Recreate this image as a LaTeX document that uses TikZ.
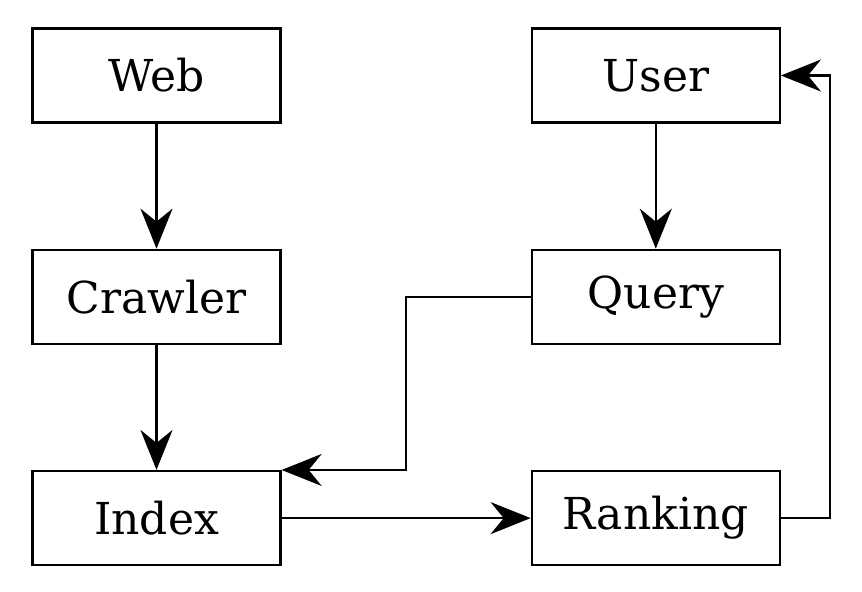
\documentclass[tikz,border=0pt]{standalone}
\usepackage{fontspec}
\setmainfont{DejaVu Serif}
\usetikzlibrary{arrows.meta,positioning}
\tikzset{
  stagebox/.style={rectangle, draw, line width=1.15pt, minimum width=124pt,
                   minimum height=47pt, inner sep=0pt,
                   font=\fontsize{22}{26}\selectfont},
  flow/.style={-{Stealth[length=20pt,width=16pt,inset=6.5pt]}, line width=1.15pt},
}
\begin{document}
\begin{tikzpicture}[node distance=62.5pt and 124.5pt]
  \useasboundingbox (0,0) rectangle (431pt,-295.5pt);
  % Crawling side
  \node[stagebox] (web) at (78.25pt,-37.75pt) {Web};
  \node[stagebox, below=of web] (crawler) {Crawler};
  \node[stagebox, below=of crawler] (index) {Index};
  % Search side
  \node[stagebox, right=of web] (user) {User};
  \node[stagebox, below=of user] (query) {Query};
  \node[stagebox, below=of query] (ranking) {Ranking};
  % Connectors
  \draw[flow] (web) -- (crawler);
  \draw[flow] (crawler) -- (index);
  \draw[flow] (user) -- (query);
  \draw[flow] (index) -- (ranking);
  \draw[flow] (query.west) -- ++(-62.5pt,0) |- (index.north east);
  \draw[flow] (ranking.east) -- ++(24.5pt,0) |- (user.east);
\end{tikzpicture}
\end{document}
